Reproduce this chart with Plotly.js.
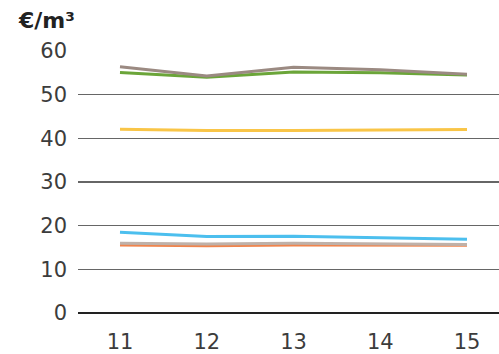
<!DOCTYPE html>
<html>
<head>
<meta charset="utf-8">
<script src="https://cdn.plot.ly/plotly-3.0.1.min.js"></script>
<style>html,body{margin:0;padding:0;background:#fff;}#chart{width:499px;height:354px;}</style>
</head>
<body>
<div id="chart"></div>
<script>
var years = [11, 12, 13, 14, 15];
var yearLabels = ['11', '12', '13', '14', '15'];
var seriesBrown = [56.4, 54.3, 56.3, 55.7, 54.7];
var seriesGreen = [55.1, 54.0, 55.2, 55.0, 54.5];
var seriesYellow = [42.1, 41.8, 41.8, 41.9, 42.0];
var seriesBlue = [18.5, 17.5, 17.6, 17.3, 16.9];
var seriesBeige = [16.0, 15.8, 16.0, 15.9, 15.7];
var seriesOrange = [15.6, 15.4, 15.6, 15.5, 15.5];
var yTicks = [0, 10, 20, 30, 40, 50, 60];

function tr(y, color) {
  return {x: years, y: y, type: 'scatter', mode: 'lines',
          line: {color: color, width: 3}, hoverinfo: 'skip', showlegend: false};
}
var data = [
  tr(seriesOrange, '#f0844c'),
  tr(seriesBeige, '#bfb1a9'),
  tr(seriesBlue, '#4cbfee'),
  tr(seriesYellow, '#f9c547'),
  tr(seriesGreen, '#6ba539'),
  tr(seriesBrown, '#9b8a82')
];
var tickFont = {size: 21, color: '#3c3c3c', family: 'DejaVu Sans, sans-serif'};
var layout = {
  width: 499, height: 354,
  margin: {l: 78, r: 0, t: 51, b: 41, pad: 0},
  paper_bgcolor: '#fff', plot_bgcolor: '#fff',
  font: {family: 'DejaVu Sans, sans-serif', color: '#333'},
  xaxis: {range: [10.516, 15.369], tickvals: years, ticktext: yearLabels,
          showgrid: false, zeroline: false, showline: false, ticks: '',
          ticklabelstandoff: 14, tickfont: tickFont, fixedrange: true},
  yaxis: {range: [0, 60], tickvals: yTicks, showgrid: true, gridcolor: '#666', gridwidth: 1.3,
          zeroline: true, zerolinecolor: '#222', zerolinewidth: 1.6, showline: false, ticks: '',
          ticklabelstandoff: 10, tickfont: tickFont, fixedrange: true},
  annotations: [{text: '<b>€/m³</b>', xref: 'paper', yref: 'paper', x: 0, y: 1,
                 xanchor: 'left', yanchor: 'bottom', showarrow: false,
                 xshift: -62, yshift: 16, font: {size: 22, color: '#222', family: 'DejaVu Sans, sans-serif'}}]
};
Plotly.newPlot('chart', data, layout, {staticPlot: true, displayModeBar: false});
</script>
</body>
</html>
